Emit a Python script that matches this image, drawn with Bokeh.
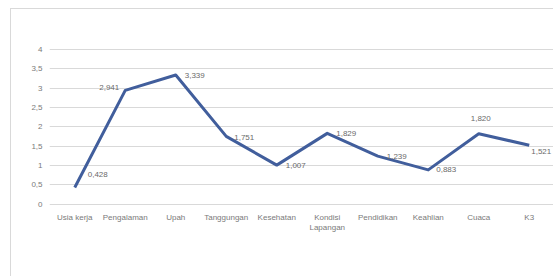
from bokeh.plotting import figure
from bokeh.models import ColumnDataSource, LabelSet, Range1d, FixedTicker
from bokeh.core.properties import value
from bokeh.embed import file_html
from bokeh.resources import INLINE

categories = ["Usia kerja", "Pengalaman", "Upah", "Tanggungan", "Kesehatan",
              "Kondisi\nLapangan", "Pendidikan", "Keahlian", "Cuaca", "K3"]
values = [0.428, 2.941, 3.339, 1.751, 1.007, 1.829, 1.239, 0.883, 1.820, 1.521]
y_ticks = [0, 0.5, 1, 1.5, 2, 2.5, 3, 3.5, 4]

# label placement (style only)
lab_dx = [13, -6, 9, 8, 9, 9, 9, 8, 2, 2]
lab_dy = [13, 3, 0, -1, 0, 0, 0, 0, 15, -6]
lab_align = ["left", "right", "left", "left", "left", "left", "left", "left", "center", "left"]

FONT = "Liberation Sans"
GREY = "#7a7a7a"

xs = list(range(len(categories)))
src = ColumnDataSource(dict(
    x=xs, y=values,
    txt=[f"{v:.3f}".replace(".", ",") for v in values],
    dx=lab_dx, dy=lab_dy, align=lab_align,
))

p = figure(width=543, height=268, output_backend="svg", toolbar_location=None,
           x_range=Range1d(-0.5, 9.5), y_range=Range1d(-0.1165, 4.1036),
           min_border_left=38, min_border_right=0, min_border_top=36,
           min_border_bottom=69)
p.margin = (8, 0, 0, 10)
p.outline_line_color = None
p.background_fill_color = "white"
p.border_fill_color = "white"
p.styles = {"border-left": "1px solid #d9d9d9", "border-top": "1px solid #d9d9d9"}

p.line("x", "y", source=src, line_color="#415e9c", line_width=3, line_join="round")

labels = LabelSet(x="x", y="y", text="txt", source=src, x_offset="dx", y_offset="dy",
                  text_align="align", text_baseline="middle",
                  text_font=value(FONT), text_font_size="8px", text_color="#6a6a6a")
p.add_layout(labels)

# axes
p.xaxis.ticker = FixedTicker(ticks=xs)
p.xaxis.major_label_overrides = {i: c for i, c in zip(xs, categories)}
p.yaxis.ticker = FixedTicker(ticks=y_ticks)
p.yaxis.major_label_overrides = {t: (str(int(t)) if float(t).is_integer() else str(t).replace(".", ",")) for t in y_ticks}
for ax in (p.xaxis[0], p.yaxis[0]):
    ax.axis_line_color = None
    ax.major_tick_line_color = None
    ax.minor_tick_line_color = None
    ax.major_tick_out = 0
    ax.major_tick_in = 0
    ax.major_label_text_font = FONT
    ax.major_label_text_font_size = "8px"
    ax.major_label_text_color = GREY
p.yaxis.major_label_standoff = 7
p.xaxis.major_label_standoff = 4

p.xgrid.grid_line_color = None
p.ygrid.ticker = FixedTicker(ticks=y_ticks)
p.ygrid.grid_line_color = "#d9d9d9"
p.ygrid.grid_line_width = 1

open("out.html", "w").write(file_html(p, INLINE))
